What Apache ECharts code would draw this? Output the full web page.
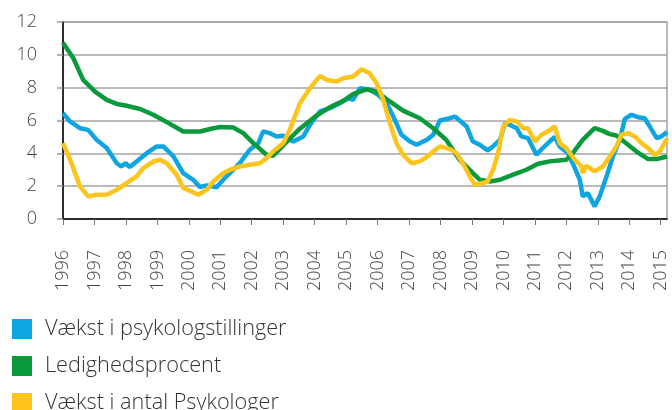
<!DOCTYPE html>
<html><head><meta charset="utf-8">
<script src="https://cdn.jsdelivr.net/npm/echarts@6/dist/echarts.min.js"></script>
<style>html,body{margin:0;padding:0;background:#fff}#c{width:672px;height:410px}</style>
</head><body><div id="c"></div>
<script>
const seriesNames = ['Vækst i psykologstillinger', 'Ledighedsprocent', 'Vækst i antal Psykologer'];
const yearTicks = [1996,1997,1998,1999,2000,2001,2002,2003,2004,2005,2006,2007,2008,2009,2010,2011,2012,2013,2014,2015];

const blueYears = [1996.0,1996.22,1996.54,1996.8,1997.07,1997.39,1997.71,1997.85,1998.0,1998.12,1998.34,1998.66,1998.98,1999.19,1999.51,1999.82,2000.14,2000.35,2000.57,2000.88,2001.0,2001.2,2001.31,2001.62,2001.94,2002.21,2002.36,2002.58,2002.79,2003.0,2003.32,2003.64,2003.85,2004.17,2004.48,2004.8,2005.07,2005.22,2005.44,2005.75,2006.02,2006.29,2006.5,2006.76,2007.03,2007.24,2007.56,2007.77,2007.98,2008.3,2008.46,2008.83,2009.03,2009.25,2009.5,2009.67,2009.89,2010.05,2010.2,2010.42,2010.57,2010.78,2011.05,2011.25,2011.47,2011.63,2011.79,2012.05,2012.2,2012.43,2012.52,2012.68,2012.9,2013.06,2013.28,2013.48,2013.7,2013.86,2014.07,2014.28,2014.49,2014.65,2014.87,2015.02,2015.2];
const blueValues = [6.45,5.94,5.53,5.43,4.82,4.32,3.4,3.2,3.4,3.16,3.5,4.01,4.42,4.42,3.81,2.8,2.39,1.95,2.05,1.93,2.19,2.6,2.8,3.4,4.22,4.62,5.33,5.23,5.03,5.07,4.72,5.03,5.74,6.55,6.75,7.05,7.36,7.26,7.97,7.87,7.56,7.05,6.24,5.13,4.72,4.52,4.82,5.13,6.0,6.14,6.24,5.64,4.72,4.52,4.18,4.42,4.82,5.84,5.74,5.53,5.03,4.93,3.91,4.32,4.72,5.0,4.42,4.01,3.4,2.39,1.38,1.58,0.77,1.38,2.6,3.81,4.82,6.1,6.35,6.2,6.14,5.64,4.93,5.03,5.3];

const greenYears = [1996.0,1996.33,1996.64,1997.02,1997.39,1997.71,1998.02,1998.45,1998.87,1999.3,1999.82,2000.35,2000.78,2001.0,2001.41,2001.73,2002.05,2002.47,2002.68,2003.11,2003.53,2004.06,2004.48,2004.91,2005.22,2005.65,2005.97,2006.39,2006.81,2007.34,2007.77,2008.19,2008.61,2009.03,2009.25,2009.57,2009.89,2010.31,2010.73,2011.1,2011.47,2012.0,2012.2,2012.52,2012.9,2013.16,2013.38,2013.59,2013.9,2014.23,2014.6,2014.87,2015.2];
const greenValues = [10.74,9.79,8.47,7.76,7.26,7.01,6.9,6.7,6.35,5.9,5.33,5.33,5.53,5.6,5.57,5.23,4.62,3.91,3.85,4.7,5.5,6.3,6.8,7.2,7.6,7.9,7.75,7.16,6.6,6.14,5.53,4.8,3.6,2.8,2.39,2.29,2.39,2.7,3.0,3.37,3.51,3.61,4.0,4.82,5.53,5.37,5.17,5.09,4.62,4.11,3.65,3.65,3.81];

const yellowYears = [1996.0,1996.27,1996.54,1996.8,1997.07,1997.39,1997.71,1998.02,1998.34,1998.55,1998.87,1999.08,1999.3,1999.61,1999.82,2000.08,2000.3,2000.57,2000.78,2001.1,2001.31,2001.62,2001.94,2002.26,2002.47,2002.68,2003.0,2003.21,2003.53,2003.85,2004.17,2004.38,2004.7,2004.91,2005.22,2005.49,2005.75,2005.97,2006.18,2006.39,2006.6,2006.81,2007.08,2007.34,2007.56,2007.77,2007.98,2008.3,2008.51,2008.71,2008.93,2009.09,2009.35,2009.5,2009.67,2009.83,2009.99,2010.2,2010.42,2010.63,2010.78,2011.0,2011.21,2011.41,2011.63,2011.79,2012.0,2012.27,2012.48,2012.52,2012.64,2012.9,2013.16,2013.38,2013.59,2013.75,2013.96,2014.18,2014.39,2014.6,2014.81,2014.97,2015.2];
const yellowValues = [4.62,3.4,1.99,1.38,1.48,1.48,1.78,2.19,2.6,3.1,3.5,3.61,3.4,2.7,1.89,1.68,1.48,1.78,2.29,2.8,3.0,3.2,3.3,3.4,3.71,4.11,4.62,5.43,7.05,7.97,8.72,8.47,8.37,8.57,8.68,9.12,8.88,8.27,7.26,5.84,4.62,3.91,3.4,3.51,3.77,4.11,4.42,4.26,4.01,3.4,2.6,2.09,2.19,2.29,3.0,4.01,5.64,6.04,5.94,5.53,5.53,4.72,5.13,5.33,5.64,4.62,4.32,3.61,3.2,2.8,3.24,2.9,3.2,3.81,4.42,5.13,5.23,5.03,4.62,4.32,3.91,4.11,4.9];

const yTickValues = [0,2,4,6,8,10,12];

const zip = (xs, ys) => xs.map((x, i) => [x, ys[i]]);
const colors = ['#0ea5e2', '#0a9a3c', '#fdc41c'];
const font = "'Open Sans', 'Lato', sans-serif";

const chart = echarts.init(document.getElementById('c'), null, {renderer: 'canvas'});
chart.setOption({
  animation: false,
  color: colors,
  grid: {left: 63, right: 5, top: 22, bottom: 191, show: true, borderColor: '#a3a3a3', borderWidth: 1.5},
  xAxis: {
    type: 'value', min: yearTicks[0], max: 2015.2, interval: 1,
    axisLine: {show: true, lineStyle: {color: '#000', width: 1.5}},
    axisTick: {show: true, length: 6, lineStyle: {color: '#777', width: 1}},
    splitLine: {show: false},
    axisLabel: {
      rotate: 90, margin: 31, fontSize: 18, color: '#444', fontFamily: font, fontWeight: 300,
      showMaxLabel: false,
      formatter: v => (yearTicks.indexOf(Math.round(v * 100) / 100) >= 0 ? String(v) : '')
    }
  },
  yAxis: {
    type: 'value', min: yTickValues[0], max: yTickValues[yTickValues.length - 1], interval: 2,
    axisLine: {show: true, lineStyle: {color: '#000', width: 1.5}},
    axisTick: {show: true, length: 6, lineStyle: {color: '#999', width: 1.5}},
    splitLine: {show: true, lineStyle: {color: '#a3a3a3', width: 1.5}},
    axisLabel: {margin: 26, fontSize: 18, color: '#444', fontFamily: font, fontWeight: 300}
  },
  legend: {
    orient: 'vertical', left: 12, top: 318, height: 200, width: 400, padding: 0, itemWidth: 20, itemHeight: 20, itemGap: 15,
    icon: 'rect', data: seriesNames,
    textStyle: {fontSize: 21.7, lineHeight: 20, color: '#333', fontFamily: font, fontWeight: 300, padding: [0, 0, 0, 8]}
  },
  series: [
    {name: seriesNames[0], type: 'line', data: zip(blueYears, blueValues), showSymbol: false, lineStyle: {width: 4.5}, z: 2},
    {name: seriesNames[1], type: 'line', data: zip(greenYears, greenValues), showSymbol: false, lineStyle: {width: 4.5}, z: 3},
    {name: seriesNames[2], type: 'line', data: zip(yellowYears, yellowValues), showSymbol: false, lineStyle: {width: 4.5}, z: 4}
  ]
});
</script></body></html>
